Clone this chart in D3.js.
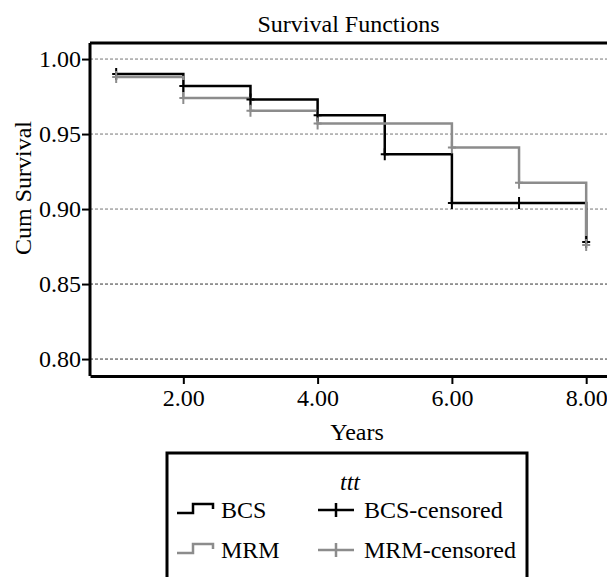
<!DOCTYPE html>
<html>
<head>
<meta charset="utf-8">
<script src="https://cdn.jsdelivr.net/npm/d3@7"></script>
<style>
  body { margin: 0; background: #fff; }
  svg text { font-family: "Liberation Serif", "DejaVu Serif", serif; }
</style>
</head>
<body>
<svg></svg>
<script>
// Survival data
const bcsTimes = [1, 2, 3, 4, 5, 6, 8];
const bcsSurvival = [0.990, 0.982, 0.973, 0.9625, 0.9365, 0.904, 0.878];
const mrmTimes = [1, 2, 3, 4, 6, 7, 8];
const mrmSurvival = [0.988, 0.974, 0.9655, 0.957, 0.941, 0.9175, 0.876];

// Censored observations
const bcsCensTimes = [1, 2, 3, 4, 5, 6, 7, 8];
const bcsCensSurvival = [0.990, 0.982, 0.973, 0.9625, 0.9365, 0.904, 0.904, 0.878];
const mrmCensTimes = [1, 2, 3, 4, 6, 7, 8];
const mrmCensSurvival = [0.988, 0.974, 0.9655, 0.957, 0.941, 0.9175, 0.876];

// Axis ticks
const xTicks = [2, 4, 6, 8];
const yTicks = [0.80, 0.85, 0.90, 0.95, 1.00];

const legendTitle = "ttt";
const groups = ["BCS", "MRM"];
const colors = { BCS: "#000000", MRM: "#8c8c8c" };

// Chart dimensions
const svgWidth = 607;
const svgHeight = 577;
const plot = { left: 90, top: 43, right: 607, bottom: 376 };
const serif = "'Liberation Serif', 'DejaVu Serif', serif";

const svg = d3.select("svg")
    .attr("width", svgWidth)
    .attr("height", svgHeight);

// Scales
const xScale = d3.scaleLinear()
    .domain([0.61, 8.31])
    .range([plot.left, plot.right]);

const yScale = d3.scaleLinear()
    .domain([0.7887, 1.0107])
    .range([plot.bottom, plot.top]);

// Gridlines (upper ones lighter, like the reference)
svg.append("g")
    .selectAll("line")
    .data(yTicks)
    .enter()
    .append("line")
    .attr("x1", plot.left)
    .attr("x2", plot.right)
    .attr("y1", d => yScale(d))
    .attr("y2", d => yScale(d))
    .attr("stroke", d => d > 0.875 ? "#777" : "#333")
    .attr("stroke-width", 1)
    .attr("stroke-dasharray", "3,2");

// Top border
svg.append("line")
    .attr("x1", plot.left)
    .attr("x2", plot.right)
    .attr("y1", plot.top)
    .attr("y2", plot.top)
    .attr("stroke", "#000")
    .attr("stroke-width", 3);

// Y axis
const yAxis = d3.axisLeft(yScale)
    .tickValues(yTicks)
    .tickFormat(d3.format(".2f"))
    .tickSize(8)
    .tickSizeOuter(0);

const yG = svg.append("g")
    .attr("transform", `translate(${plot.left},0)`)
    .call(yAxis);

// X axis
const xAxis = d3.axisBottom(xScale)
    .tickValues(xTicks)
    .tickFormat(d3.format(".2f"))
    .tickSize(8)
    .tickSizeOuter(0);

const xG = svg.append("g")
    .attr("transform", `translate(0,${plot.bottom})`)
    .call(xAxis);

[yG, xG].forEach(g => {
    g.attr("font-family", serif).attr("font-size", 24);
    g.select(".domain").attr("stroke-width", 3);
    g.selectAll(".tick line").attr("stroke-width", 2);
    g.selectAll(".tick text").attr("fill", "#000");
});
yG.select(".domain").attr("d", `M0,${plot.top}V${plot.bottom}`);
yG.selectAll(".tick text").attr("x", -9);
xG.selectAll(".tick text").attr("y", 13);

// Step curves
const stepLine = d3.line()
    .x(d => xScale(d[0]))
    .y(d => yScale(d[1]))
    .curve(d3.curveStepAfter);

const series = [
    { name: "BCS", pts: d3.zip(bcsTimes, bcsSurvival), cens: d3.zip(bcsCensTimes, bcsCensSurvival) },
    { name: "MRM", pts: d3.zip(mrmTimes, mrmSurvival), cens: d3.zip(mrmCensTimes, mrmCensSurvival) }
];

series.forEach(s => {
    svg.append("path")
        .attr("d", stepLine(s.pts))
        .attr("fill", "none")
        .attr("stroke", colors[s.name])
        .attr("stroke-width", 2.5);
});

// Censor marks (+)
series.forEach(s => {
    svg.append("g")
        .selectAll("path")
        .data(s.cens)
        .enter()
        .append("path")
        .attr("d", d => {
            const x = xScale(d[0]), y = yScale(d[1]);
            return `M${x - 4},${y}H${x + 4}M${x},${y - 6}V${y + 6}`;
        })
        .attr("stroke", colors[s.name])
        .attr("stroke-width", 2)
        .attr("fill", "none");
});

// Titles
svg.append("text")
    .attr("x", (plot.left + plot.right) / 2)
    .attr("y", 32)
    .attr("text-anchor", "middle")
    .attr("font-size", 24)
    .text("Survival Functions");

svg.append("text")
    .attr("transform", `translate(31,188) rotate(-90)`)
    .attr("text-anchor", "middle")
    .attr("font-size", 24)
    .text("Cum Survival");

svg.append("text")
    .attr("x", 357)
    .attr("y", 440)
    .attr("text-anchor", "middle")
    .attr("font-size", 24)
    .text("Years");

// Legend
const legend = svg.append("g");
legend.append("rect")
    .attr("x", 167)
    .attr("y", 453)
    .attr("width", 360)
    .attr("height", 160)
    .attr("fill", "none")
    .attr("stroke", "#000")
    .attr("stroke-width", 3);

legend.append("text")
    .attr("x", 350)
    .attr("y", 490)
    .attr("text-anchor", "middle")
    .attr("font-size", 24)
    .attr("font-style", "italic")
    .text(legendTitle);

groups.forEach((g, i) => {
    const base = 518 + i * 40;
    const c = colors[g];
    // step symbol
    legend.append("path")
        .attr("d", `M177,${base - 5}H193V${base - 14}H213V${base - 9}`)
        .attr("fill", "none")
        .attr("stroke", c)
        .attr("stroke-width", 2.5);
    legend.append("text")
        .attr("x", 221)
        .attr("y", base)
        .attr("font-size", 24)
        .text(g);
    // censored symbol
    legend.append("path")
        .attr("d", `M318,${base - 8}H354M336,${base - 15}V${base - 1}`)
        .attr("fill", "none")
        .attr("stroke", c)
        .attr("stroke-width", 2.5);
    legend.append("text")
        .attr("x", 364)
        .attr("y", base)
        .attr("font-size", 24)
        .text(g + "-censored");
});

// Make sure every label uses the serif face
svg.selectAll("text").attr("font-family", serif);
</script>
</body>
</html>
